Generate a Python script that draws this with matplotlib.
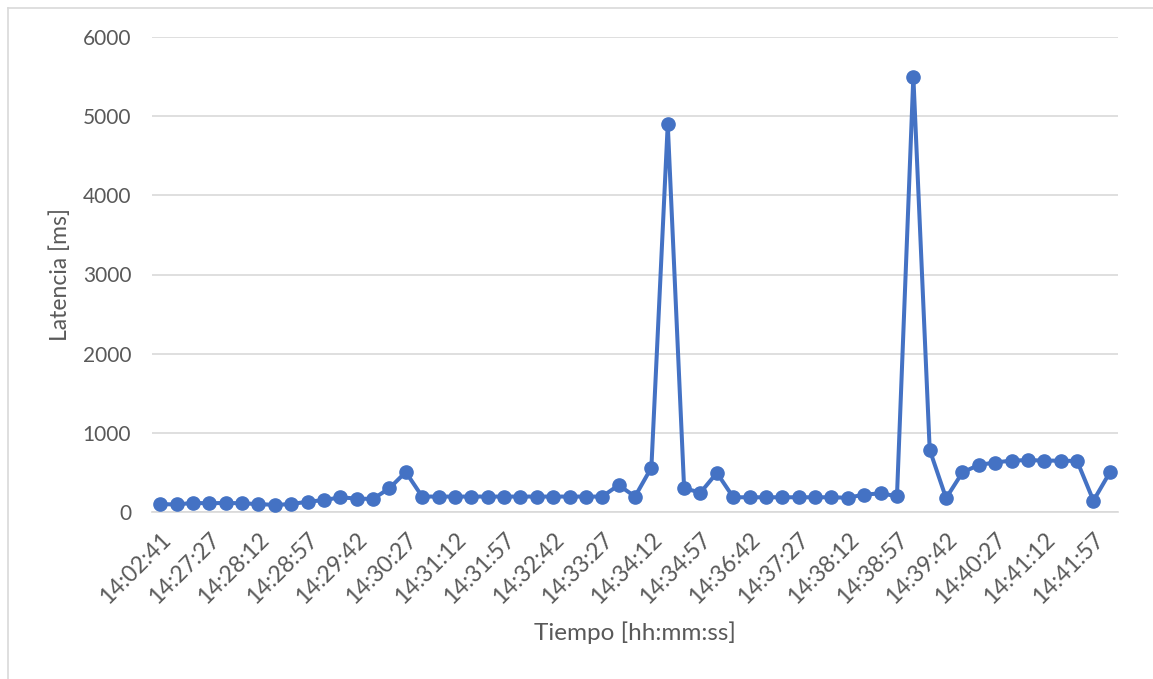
import matplotlib.pyplot as plt
from matplotlib.lines import Line2D

# latency per sample (ms)
latencia = [100, 95, 115, 110, 115, 110, 100, 90, 100, 130,
            150, 185, 170, 165, 300, 505, 195, 195, 195, 195,
            195, 195, 195, 195, 195, 195, 195, 195, 340, 195,
            560, 4900, 300, 245, 495, 186, 186, 186, 186, 186,
            186, 186, 180, 220, 235, 200, 5500, 785, 175, 500,
            595, 625, 650, 655, 650, 648, 645, 143, 500]

# only every third sample carries a label
etiquetas = ["14:02:41", "14:27:27", "14:28:12", "14:28:57", "14:29:42",
             "14:30:27", "14:31:12", "14:31:57", "14:32:42", "14:33:27",
             "14:34:12", "14:34:57", "14:36:42", "14:37:27", "14:38:12",
             "14:38:57", "14:39:42", "14:40:27", "14:41:12", "14:41:57"]

plt.rcParams['font.family'] = ['Lato', 'DejaVu Sans']
gris = '#595959'

fig = plt.figure(figsize=(11.53, 6.79), dpi=100)
ax = fig.add_axes([152/1153, 1 - 512/679, 966/1153, 475/679])

x = list(range(len(latencia)))
ax.plot(x, latencia, color='#4472C4', linewidth=2.9, marker='o',
        markersize=9.5, zorder=3)

ax.set_xlim(-0.5, len(latencia) - 0.5)
ax.set_ylim(0, 6000)
ax.set_yticks(range(0, 6001, 1000))
ax.set_xticks(range(0, len(latencia), 3))
ax.set_xticklabels(etiquetas, rotation=45, ha='right', rotation_mode='anchor')
ax.tick_params(axis='both', length=0, labelcolor=gris)
ax.tick_params(axis='y', pad=15, labelsize=15)
ax.tick_params(axis='x', pad=12, labelsize=16.5)

ax.grid(axis='y', color='#D9D9D9', linewidth=1.2)
ax.set_axisbelow(True)
for s in ['top', 'right', 'left']:
    ax.spines[s].set_visible(False)
ax.spines['bottom'].set_color('#D9D9D9')
ax.spines['bottom'].set_linewidth(1.2)

ax.set_ylabel('Latencia [ms]', fontsize=16.5, color=gris, va='center')
ax.yaxis.set_label_coords(-92/966, 0.5)
ax.set_xlabel('Tiempo [hh:mm:ss]', fontsize=17.5, color=gris, va='center')
ax.xaxis.set_label_coords(0.5, -121/475)

# chart frame (only top and left edges visible)
fig.add_artist(Line2D([8/1153, 1], [1 - 8/679, 1 - 8/679],
                      transform=fig.transFigure, color='#D9D9D9', lw=1.2))
fig.add_artist(Line2D([8/1153, 8/1153], [0, 1 - 8/679],
                      transform=fig.transFigure, color='#D9D9D9', lw=1.2))

fig.savefig('out.png', dpi=100)
